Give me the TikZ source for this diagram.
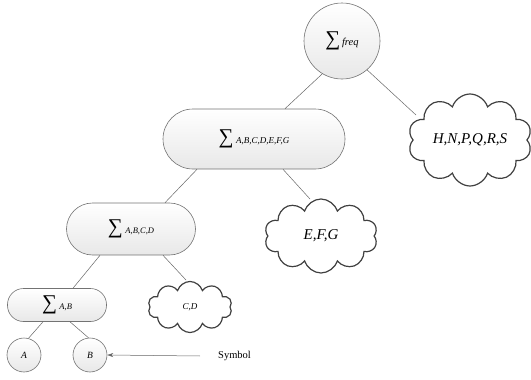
\documentclass[tikz,border=0pt]{standalone}
\usepackage{fontspec}
\setmainfont{Liberation Serif}
\usetikzlibrary{shapes.symbols,arrows.meta}

\newcommand{\sumsym}{{\fontsize{21}{21}\selectfont ∑}}
\newcommand{\settxt}[2]{{\fontsize{#1}{#1}\selectfont\itshape #2}}

\begin{document}
\begin{tikzpicture}[x=1pt, y=1pt,
      every node/.style={align=center, inner sep=2pt},
      sumbox/.style={rectangle, draw=black!55, line width=0.6pt, top color=white, bottom color=black!9},
      setcloud/.style={cloud, cloud puffs=10, cloud puff arc=145, cloud ignores aspect, draw=black!75, fill=white, line width=1.2pt, inner sep=0pt},
      link/.style={draw=black!60, line width=0.5pt}]
    \useasboundingbox (0,0) rectangle (531,-380);
    % sums
    \node[sumbox, circle, minimum size=76pt] (freq) at (342,-41) {\sumsym\,\settxt{10.5}{freq}};
    \node[sumbox, rounded corners=30pt, minimum width=182pt, minimum height=60pt] (abcdefg) at (254,-139) {\sumsym\ \settxt{9}{A,B,C,D,E,F,G}};
    \node[sumbox, rounded corners=26pt, minimum width=129pt, minimum height=52pt] (abcd) at (131,-229) {\sumsym\ \settxt{8.5}{A,B,C,D}};
    \node[sumbox, rounded corners=16pt, minimum width=99pt, minimum height=33pt] (ab) at (57,-305) {\sumsym\ \settxt{8.5}{A,B}};
    \node[sumbox, circle, minimum size=34pt] (a) at (24,-355) {\settxt{9.5}{A}};
    \node[sumbox, circle, minimum size=34pt] (b) at (90,-355) {\settxt{9.5}{B}};
    % sets
    \node[setcloud, minimum width=124pt, minimum height=92pt] (hnpqrs) at (470,-140) {\settxt{15}{H,N,P,Q,R,S}};
    \node[setcloud, minimum width=113pt, minimum height=74pt] (efg) at (321,-236) {\settxt{15}{E,F,G}};
    \node[setcloud, minimum width=84pt, minimum height=51pt] (cd) at (190,-307) {\settxt{9}{C,D}};
    \node[anchor=west, font=\fontsize{10.5}{12}\selectfont] (symbol) at (216,-356) {Symbol};
    % links
    \draw[link] (freq.239) -- ([xshift=31pt]abcdefg.north);
    \draw[link] (freq.-49) -- ([shift={(-54pt,25pt)}]hnpqrs.center);
    \draw[link] ([xshift=-57pt]abcdefg.south) -- ([xshift=34pt]abcd.north);
    \draw[link] ([xshift=29pt]abcdefg.south) -- ([shift={(-11pt,37pt)}]efg.center);
    \draw[link] ([xshift=-31pt]abcd.south) -- ([xshift=16pt]ab.north);
    \draw[link] ([xshift=32pt]abcd.south) -- ([shift={(-4pt,27pt)}]cd.center);
    \draw[link] ([xshift=-14pt]ab.south) -- (a.75);
    \draw[link] ([xshift=13pt]ab.south) -- (b.95);
    \draw[link, -{Stealth[length=6pt, width=4pt]}] ([xshift=-16pt]symbol.west) -- (b.east);
\end{tikzpicture}
\end{document}
